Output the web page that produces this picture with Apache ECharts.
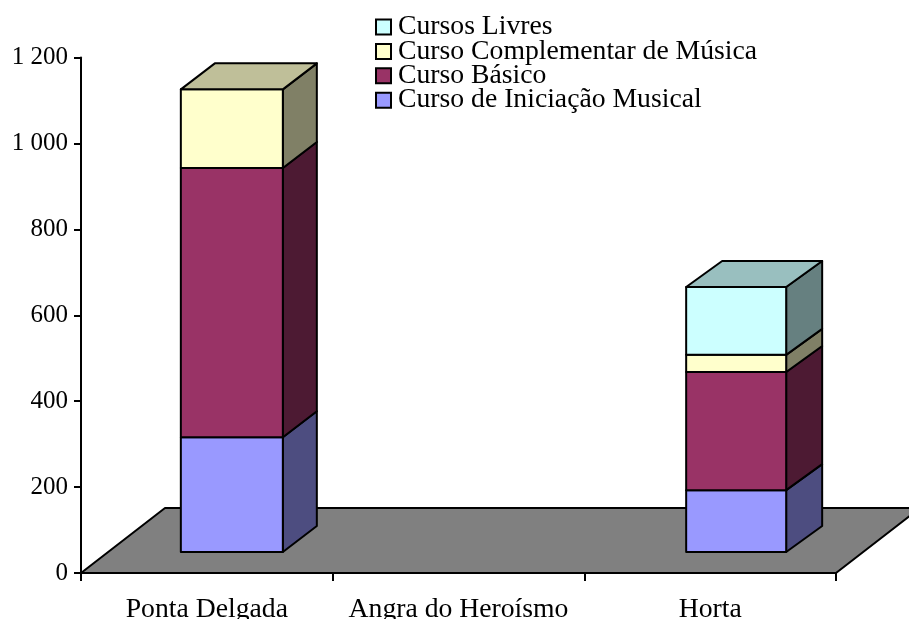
<!DOCTYPE html>
<html>
<head>
<meta charset="utf-8">
<title>Cursos</title>
<style>
    html, body { margin: 0; padding: 0; background: #fff; }
    #chart { width: 909px; height: 619px; }
</style>
<script src="https://cdn.jsdelivr.net/npm/echarts@6/dist/echarts.min.js"></script>
</head>
<body>
<div id="chart"></div>
<script>
    // data
    var categories = ['Ponta Delgada', 'Angra do Heroísmo', 'Horta'];
    var cursoIniciacao = [267, 0, 144];
    var cursoBasico = [627, 0, 275];
    var cursoComplementar = [183, 0, 40];
    var cursosLivres = [0, 0, 158];
    var yTicks = { min: 0, max: 1200, interval: 200 };

    var stack = [cursoIniciacao, cursoBasico, cursoComplementar, cursosLivres];
    var names = ['Curso de Iniciação Musical', 'Curso Básico', 'Curso Complementar de Música', 'Cursos Livres'];
    var front = ['#9999ff', '#993366', '#ffffcc', '#ccffff'];
    var side = ['#4d4d80', '#4d1a33', '#808066', '#668080'];
    var topFace = ['#73738f', '#734d60', '#bfbf99', '#99bfbf'];

    var FONT = '"Liberation Serif", serif';
    var OUT = { stroke: '#000', lineWidth: 2, lineJoin: 'round' };

    // pseudo 3d offsets, in pixels
    var FLOOR_DX = 84, FLOOR_DY = 65;
    var BAR_SHIFT_Y = -21, DEPTH_Y = 26;
    var BAR_SHIFT_X = [25, 26, 26];
    var BAR_W = [102, 101, 100];
    var DEPTH_X = [34, 34, 36];

    function poly(points, fill) {
        return { type: 'polygon', shape: { points: points }, style: { fill: fill, stroke: OUT.stroke, lineWidth: OUT.lineWidth, lineJoin: OUT.lineJoin } };
    }

    function renderFloor(params, api) {
        var band = api.size([1, 0])[0];
        var a = api.coord([0, 0]);
        var b = api.coord([categories.length - 1, 0]);
        var x0 = a[0] - band / 2, x1 = b[0] + band / 2, y = a[1];
        return poly([[x0, y], [x1, y], [x1 + FLOOR_DX, y - FLOOR_DY], [x0 + FLOOR_DX, y - FLOOR_DY]], '#808080');
    }

    function makeRender(layer) {
        return function (params, api) {
            var cat = api.value(0);
            var val = api.value(1);
            if (!val) return null;
            var start = 0, isTop = true;
            for (var i = 0; i < layer; i++) start += stack[i][cat];
            for (var j = layer + 1; j < stack.length; j++) if (stack[j][cat]) isTop = false;

            var p0 = api.coord([cat, start]);
            var p1 = api.coord([cat, start + val]);
            var x0 = p0[0] + BAR_SHIFT_X[cat] - BAR_W[cat] / 2, x1 = x0 + BAR_W[cat];
            var yb = p0[1] + BAR_SHIFT_Y, yt = p1[1] + BAR_SHIFT_Y;
            var dx = DEPTH_X[cat];

            var kids = [
                poly([[x1, yb], [x1 + dx, yb - DEPTH_Y], [x1 + dx, yt - DEPTH_Y], [x1, yt]], side[layer]),
                poly([[x0, yb], [x1, yb], [x1, yt], [x0, yt]], front[layer])
            ];
            if (isTop) {
                kids.push(poly([[x0, yt], [x0 + dx, yt - DEPTH_Y], [x1 + dx, yt - DEPTH_Y], [x1, yt]], topFace[layer]));
            }
            return { type: 'group', children: kids };
        };
    }

    var series = [{
        type: 'custom',
        name: 'chão',
        silent: true,
        clip: false,
        z: 1,
        data: [[0, 0]],
        renderItem: renderFloor
    }];
    stack.forEach(function (values, k) {
        series.push({
            type: 'custom',
            name: names[k],
            clip: false,
            z: 2 + k,
            itemStyle: { color: front[k] },
            data: values.map(function (v, i) { return [i, v]; }),
            renderItem: makeRender(k)
        });
    });

    var chart = echarts.init(document.getElementById('chart'));
    chart.setOption({
        animation: false,
        backgroundColor: '#fff',
        grid: { left: 81, top: 57.5, width: 755, height: 515.5, outerBoundsMode: 'none' },
        legend: {
            orient: 'vertical',
            left: 375,
            top: 13,
            itemWidth: 15,
            itemHeight: 15,
            itemGap: -3.6,
            padding: 0,
            selectedMode: false,
            icon: 'rect',
            data: names.slice().reverse(),
            itemStyle: { borderColor: '#000', borderWidth: 2 },
            textStyle: { fontFamily: FONT, fontSize: 27.7, color: '#000', padding: [5, 0, 0, 2] }
        },
        xAxis: {
            type: 'category',
            data: categories,
            z: 20,
            axisLine: { lineStyle: { color: '#000', width: 2 } },
            axisTick: { show: true, length: 8, lineStyle: { color: '#000', width: 2 } },
            axisLabel: { color: '#000', fontFamily: FONT, fontSize: 27.7, margin: 23, interval: 0, hideOverlap: false }
        },
        yAxis: {
            type: 'value',
            min: yTicks.min,
            max: yTicks.max,
            interval: yTicks.interval,
            z: 20,
            splitLine: { show: false },
            axisLine: { show: true, lineStyle: { color: '#000', width: 2 } },
            axisTick: { show: true, length: 7, lineStyle: { color: '#000', width: 2 } },
            axisLabel: {
                color: '#000',
                fontFamily: FONT,
                fontSize: 25,
                margin: 13,
                padding: [4, 0, 0, 0],
                formatter: function (v) { return String(v).replace(/\B(?=(\d{3})+$)/g, ' '); }
            }
        },
        series: series
    });
</script>
</body>
</html>
